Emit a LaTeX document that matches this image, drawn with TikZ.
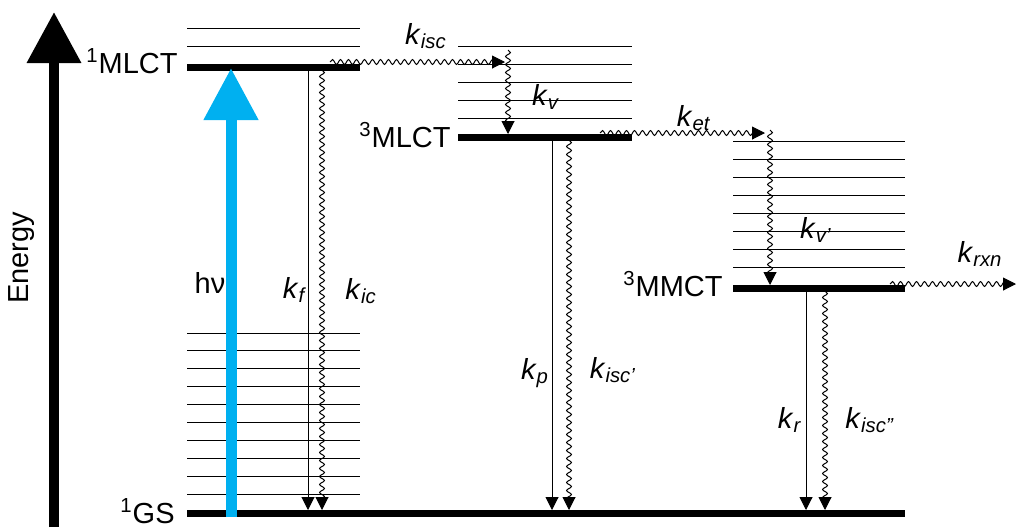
\documentclass[tikz,border=0pt]{standalone}
\usepackage{fontspec}
\setmainfont{Liberation Sans}
\usepackage{tikz}
\usetikzlibrary{arrows.meta, positioning, calc, decorations.pathmorphing}
\definecolor{hvblue}{RGB}{0,176,240}
\newcommand{\rk}[1]{\textit{k}\textsubscript{\textit{#1}}}

\begin{document}
\begin{tikzpicture}[x=0.5pt, y=-0.5pt,
  lvl/.style={line width=3.5pt},
  vib/.style={line width=0.5pt},
  lab/.style={font=\fontsize{14.5}{17}\selectfont, inner sep=0pt},
  rad/.style={line width=0.5pt, -{Triangle[length=6.5pt, width=6.5pt]}},
  nonrad/.style={line width=0.5pt, -{Triangle[length=6.5pt, width=6.5pt]}, decorate,
    decoration={snake, amplitude=1.2pt, segment length=4pt, post length=4pt}}
]
\useasboundingbox (0,0) rectangle (1016,527);
% energy axis
\coordinate (ax0) at (54,527);
\coordinate (ax1) at (54,12);
\draw[line width=5pt, -{Triangle[length=25.5pt, width=26pt]}] (ax0) -- (ax1);
\node[lab, rotate=90] (energy) at (22,258) {Energy};

% levels
\draw[lvl] (187,67) -- (360,67);
\foreach \y in {28,46} \draw[vib] (187,\y) -- (360,\y);
\draw[lvl] (458,137) -- (632,137);
\foreach \y in {46,64,82,100,118} \draw[vib] (458,\y) -- (632,\y);
\draw[lvl] (733,288) -- (905,288);
\foreach \y in {141,159,177,195,213,231,249,267} \draw[vib] (733,\y) -- (905,\y);
\draw[lvl] (187,513) -- (905,513);
\foreach \i in {0,...,9} \draw[vib] (187,333+17.9*\i) -- (360,333+17.9*\i);

\node[lab, anchor=base east] (mlct1) at (178,73) {\textsuperscript{1}MLCT};
\node[lab, anchor=base east] (mlct3) at (451,147) {\textsuperscript{3}MLCT};
\node[lab, anchor=base east] (mmct3) at (723,296) {\textsuperscript{3}MMCT};
\node[lab, anchor=base east] (gs1) at (175,523) {\textsuperscript{1}GS};

% end points
\coordinate (hv0) at (231,517);
\coordinate (hv1) at (231,68);
\coordinate (f0) at (308,70);  \coordinate (f1) at (308,510);
\coordinate (ic0) at (322,70); \coordinate (ic1) at (322,510);
\coordinate (isc0) at (330,62); \coordinate (isc1) at (505,62);
\coordinate (v0) at (508,50);  \coordinate (v1) at (508,134);
\coordinate (p0) at (552,140); \coordinate (p1) at (552,510);
\coordinate (iscb0) at (569,140); \coordinate (iscb1) at (569,510);
\coordinate (et0) at (600,133); \coordinate (et1) at (765,133);
\coordinate (vb0) at (770,130); \coordinate (vb1) at (770,285);
\coordinate (rxn0) at (890,284); \coordinate (rxn1) at (1016,284);
\coordinate (r0) at (806,291); \coordinate (r1) at (806,510);
\coordinate (iscc0) at (825,291); \coordinate (iscc1) at (825,510);

% transitions
\draw[hvblue, line width=5.5pt, -{Triangle[length=26pt, width=26pt]}] (hv0) -- (hv1);
\draw[rad] (f0) -- (f1);
\draw[nonrad] (ic0) -- (ic1);
\draw[nonrad] (isc0) -- (isc1);
\draw[nonrad] (v0) -- (v1);
\draw[rad] (p0) -- (p1);
\draw[nonrad] (iscb0) -- (iscb1);
\draw[nonrad] (et0) -- (et1);
\draw[nonrad] (vb0) -- (vb1);
\draw[nonrad] (rxn0) -- (rxn1);
\draw[rad] (r0) -- (r1);
\draw[nonrad] (iscc0) -- (iscc1);

% rate labels
\node[lab] (hv) at (210,283) {hν};
\node[lab] (kf) at (295,290) {\rk{f}};
\node[lab] (kic) at (361,291) {\rk{ic}};
\node[lab] (kisc) at (426,36) {\rk{isc}};
\node[lab] (kv) at (546,97) {\rk{v}};
\node[lab] (kp) at (535,373) {\rk{p}};
\node[lab] (kisc1) at (613,370) {\rk{isc’}};
\node[lab] (ket) at (694,118) {\rk{et}};
\node[lab] (kv1) at (816,230) {\rk{v’}};
\node[lab] (krxn) at (980,254) {\rk{rxn}};
\node[lab] (kr) at (790,420) {\rk{r}};
\node[lab] (kisc2) at (870,420) {\rk{isc”}};
\end{tikzpicture}
\end{document}
